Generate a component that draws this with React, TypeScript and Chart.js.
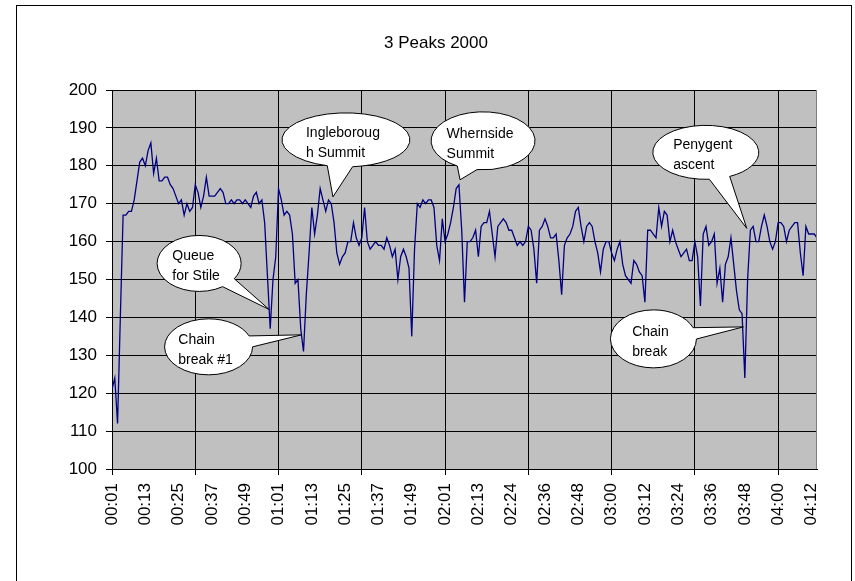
import React, { useEffect, useRef } from 'react';
import { Chart, registerables } from 'chart.js';

Chart.register(...registerables);

// ---- data ----
const chartTitle = '3 Peaks 2000';

const timeLabels = [
  '00:01', '00:13', '00:25', '00:37', '00:49', '01:01', '01:13', '01:25', '01:37', '01:49', '02:01',
  '02:13', '02:24', '02:36', '02:48', '03:00', '03:12', '03:24', '03:36', '03:48', '04:00', '04:12',
];

const yTicks = [100, 110, 120, 130, 140, 150, 160, 170, 180, 190, 200];

const heartRate = [
  121, 124, 112, 140, 167, 167, 168, 168, 171, 176,
  181, 182, 180, 184, 186, 178, 182, 176, 176, 177,
  177, 175, 174, 172, 170, 171, 167, 170, 168, 169,
  175, 173, 169, 172, 177, 172, 172, 172, 173, 174,
  173, 170, 170, 171, 170, 171, 171, 170, 171, 170,
  169, 172, 173, 170, 171, 165, 151, 137, 150, 156,
  174, 171, 167, 168, 167, 162, 149, 150, 137, 131,
  146, 157, 169, 162, 167, 174, 171, 168, 171, 170,
  165, 157, 154, 156, 157, 160, 160, 165, 161, 159,
  161, 169, 160, 158, 159, 160, 159, 159, 158, 161,
  159, 156, 158, 150, 156, 158, 156, 153, 135, 158,
  170, 169, 171, 170, 171, 171, 169, 159, 155, 166,
  160, 162, 165, 169, 174, 175, 163, 144, 160, 160,
  161, 163, 156, 164, 165, 165, 168, 162, 156, 164,
  165, 166, 165, 163, 163, 161, 159, 160, 159, 160,
  164, 163, 158, 149, 163, 164, 166, 164, 161, 161,
  162, 155, 146, 159, 161, 162, 164, 168, 169, 164,
  160, 164, 165, 164, 160, 157, 152, 158, 160, 160,
  157, 155, 158, 160, 154, 151, 150, 149, 155, 154,
  152, 151, 144, 163, 163, 162, 161, 169, 164, 168,
  167, 160, 163, 160, 158, 156, 157, 158, 155, 155,
  160, 156, 143, 162, 164, 159, 160, 162, 149, 153,
  144, 154, 156, 161, 154, 147, 142, 141, 124, 150,
  163, 164, 160, 160, 164, 167, 164, 160, 158, 160,
  165, 165, 164, 160, 163, 164, 165, 165, 157, 151,
  164, 162, 162, 162, 161,
];

// callouts: text and the data point they point at (sample index, value)
const calloutTexts = [
  ['Ingleboroug', 'h Summit'],
  ['Whernside', 'Summit'],
  ['Penygent', 'ascent'],
  ['Queue', 'for Stile'],
  ['Chain', 'break #1'],
  ['Chain', 'break'],
];
const calloutTipIndex = [79.6, 125.4, 228.7, 56.6, 68.3, 227.5];
const calloutTipValue = [171.8, 176.3, 163.5, 142.1, 135.4, 137.5];

// ---- layout / style (pixels) ----
const calloutLayout = [
  { dx: 13, dy: -57, rx: 64, ry: 27 },
  { dx: 23, dy: -39, rx: 52, ry: 29 },
  { dx: -41, dy: -76, rx: 53, ry: 27 },
  { dx: -70, dy: -46, rx: 42, ry: 28 },
  { dx: -93, dy: 12, rx: 44, ry: 28 },
  { dx: -90, dy: 12, rx: 43, ry: 29 },
];

const FONT = "'Liberation Sans', Arial, sans-serif";
const LABEL_EVERY = 12;
const GRID_EVERY = 30;

function drawCallout(
  ctx: CanvasRenderingContext2D,
  cx: number, cy: number, rx: number, ry: number,
  tx: number, ty: number, lines: string[],
) {
  const phi = Math.atan2((ty - cy) / ry, (tx - cx) / rx);
  const d = 0.2;
  ctx.save();
  ctx.beginPath();
  ctx.ellipse(cx, cy, rx, ry, 0, phi + d, phi - d + Math.PI * 2, false);
  ctx.lineTo(tx, ty);
  ctx.closePath();
  ctx.fillStyle = '#ffffff';
  ctx.fill();
  ctx.strokeStyle = '#000000';
  ctx.lineWidth = 1;
  ctx.stroke();
  ctx.fillStyle = '#000000';
  ctx.font = `14px ${FONT}`;
  ctx.textAlign = 'left';
  ctx.textBaseline = 'alphabetic';
  const w = Math.max(...lines.map((l) => ctx.measureText(l).width));
  const x0 = cx - w / 2 - 3;
  lines.forEach((l, k) => ctx.fillText(l, x0, cy - 3 + k * 20));
  ctx.restore();
}

const decorPlugin = {
  id: 'decor',
  beforeDraw(chart: any) {
    const { ctx, chartArea: a, width, height } = chart;
    ctx.save();
    ctx.fillStyle = '#ffffff';
    ctx.fillRect(0, 0, width, height);
    ctx.fillStyle = '#c0c0c0';
    ctx.fillRect(a.left, a.top, a.right - a.left, a.bottom - a.top);
    ctx.strokeStyle = '#000000';
    ctx.lineWidth = 1;
    ctx.strokeRect(16.5, 5.5, 835, height + 10);
    ctx.fillStyle = '#000000';
    ctx.font = `17px ${FONT}`;
    ctx.textAlign = 'center';
    ctx.textBaseline = 'alphabetic';
    ctx.fillText(chartTitle, 436, 48);
    ctx.restore();
  },
  afterDatasetsDraw(chart: any) {
    const { ctx, chartArea: a, scales } = chart;
    ctx.save();
    ctx.strokeStyle = '#808080';
    ctx.lineWidth = 1;
    ctx.beginPath();
    ctx.moveTo(Math.round(a.right) - 0.5, a.top);
    ctx.lineTo(Math.round(a.right) - 0.5, a.bottom);
    ctx.stroke();
    ctx.restore();
    calloutTexts.forEach((lines, k) => {
      const tx = scales.x.getPixelForValue(calloutTipIndex[k]);
      const ty = scales.y.getPixelForValue(calloutTipValue[k]);
      const L = calloutLayout[k];
      drawCallout(ctx, tx + L.dx, ty + L.dy, L.rx, L.ry, tx, ty, lines);
    });
  },
};

export default function App() {
  const ref = useRef<HTMLCanvasElement | null>(null);

  useEffect(() => {
    if (!ref.current) return;
    const lastIndex = heartRate.length - 1;
    const tickValues: number[] = [];
    for (let v = 0; v <= lastIndex; v += 6) {
      if (v % LABEL_EVERY === 0 || v % GRID_EVERY === 0) tickValues.push(v);
    }
    const chart = new Chart(ref.current, {
      type: 'line',
      data: {
        datasets: [
          {
            data: heartRate.map((v, i) => ({ x: i, y: v })),
            borderColor: '#000080',
            borderWidth: 1.3,
            pointRadius: 0,
            tension: 0,
            fill: false,
          },
        ],
      },
      options: {
        responsive: false,
        animation: false,
        devicePixelRatio: 1,
        layout: { padding: { left: 0, top: 90, right: 38, bottom: 0 } },
        plugins: {
          legend: { display: false },
          title: { display: false },
          tooltip: { enabled: false },
        },
        scales: {
          x: {
            type: 'linear',
            min: 0,
            max: lastIndex,
            afterBuildTicks: (scale: any) => {
              scale.ticks = tickValues.map((v) => ({ value: v }));
            },
            afterFit: (scale: any) => {
              scale.height = 112;
            },
            ticks: {
              autoSkip: false,
              maxRotation: 90,
              minRotation: 90,
              padding: 8,
              color: '#000000',
              font: { family: FONT, size: 17 },
              callback: (value: any) => {
                const v = Number(value);
                return v % LABEL_EVERY === 0 ? timeLabels[v / LABEL_EVERY] ?? '' : '';
              },
            },
            grid: {
              color: (c: any) =>
                c.tick && c.tick.value % GRID_EVERY === 0 ? '#000000' : 'rgba(0,0,0,0)',
              lineWidth: 1,
              tickLength: 6,
              drawOnChartArea: true,
            },
            border: { color: '#000000', width: 1 },
          },
          y: {
            type: 'linear',
            min: yTicks[0],
            max: yTicks[yTicks.length - 1],
            afterBuildTicks: (scale: any) => {
              scale.ticks = yTicks.map((v) => ({ value: v }));
            },
            afterFit: (scale: any) => {
              scale.width = 112;
            },
            ticks: {
              padding: 9,
              color: '#000000',
              font: { family: FONT, size: 17 },
            },
            grid: {
              color: '#000000',
              lineWidth: 1,
              tickLength: 6,
            },
            border: { color: '#000000', width: 1 },
          },
        },
      },
      plugins: [decorPlugin],
    });
    return () => chart.destroy();
  }, []);

  return (
    <div style={{ position: 'absolute', left: 0, top: 0, width: 855, height: 581 }}>
      <canvas ref={ref} width={855} height={581} style={{ display: 'block' }} />
    </div>
  );
}
